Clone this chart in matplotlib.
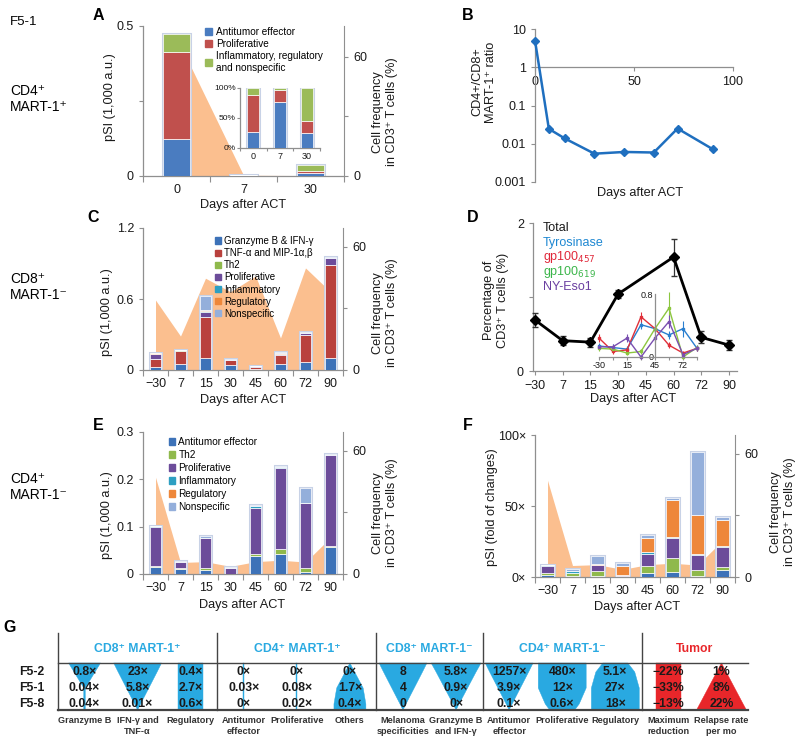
import numpy as np
import matplotlib
matplotlib.use('Agg')
import matplotlib.pyplot as plt
from matplotlib.patches import Patch, Polygon
from matplotlib.ticker import NullLocator

plt.rcParams['font.family'] = ['Liberation Sans', 'DejaVu Sans']
plt.rcParams['mathtext.fontset'] = 'dejavusans'

W, H = 800, 743
TICK = 9
LAB = 9.2

# ---- data ----
days = ['\u221230', '7', '15', '30', '45', '60', '72', '90']

# A: CD4+ MART-1+
a_days = ['0', '7', '30']
a_antitumor = [0.123, 0.003, 0.009]
a_prolif = [0.291, 0.0008, 0.008]
a_other = [0.059, 0.0002, 0.020]
a_freq = [70, 0.4, 0.2]
a_pct_antitumor = [26, 77, 25]
a_pct_prolif = [62, 20, 20]
a_pct_other = [12, 3, 55]

# B: CD4/CD8 ratio
b_day = [0, 7, 15, 30, 45, 60, 72, 90]
b_ratio = [5.0, 0.0245, 0.0138, 0.0055, 0.0061, 0.0059, 0.025, 0.0071]

# C: CD8+ MART-1-
c_gzb = [0.023, 0.050, 0.099, 0.040, 0.006, 0.050, 0.065, 0.104]
c_tnf = [0.067, 0.113, 0.346, 0.045, 0.022, 0.077, 0.231, 0.783]
c_th2 = [0.002, 0.002, 0.005, 0.0, 0.0, 0.002, 0.002, 0.002]
c_prolif = [0.043, 0.003, 0.038, 0.003, 0.002, 0.006, 0.012, 0.055]
c_inflam = [0.003, 0.001, 0.010, 0.0, 0.0, 0.003, 0.002, 0.004]
c_reg = [0.002, 0.001, 0.010, 0.0, 0.0, 0.002, 0.003, 0.002]
c_nonspec = [0.005, 0.002, 0.120, 0.005, 0.005, 0.015, 0.005, 0.005]
c_freq = [34, 16.5, 44.6, 38, 45.7, 15.6, 49.6, 38]

# D: CD8+ tetramer frequencies
d_total = [0.69, 0.41, 0.39, 1.04, np.nan, 1.54, 0.455, 0.35]
d_total_err = [0.10, 0.06, 0.06, 0.06, np.nan, 0.25, 0.08, 0.07]
d_tyr = [0.14, 0.12, 0.10, 0.41, 0.36, 0.28, 0.36, 0.11]
d_tyr_err = [0.04, 0.04, 0.04, 0.05, 0.04, 0.05, 0.10, 0.04]
d_gp457 = [0.24, 0.07, 0.09, 0.51, 0.36, 0.15, 0.05, 0.11]
d_gp457_err = [0.05, 0.03, 0.03, 0.06, 0.04, 0.04, 0.03, 0.03]
d_gp619 = [0.11, 0.10, 0.05, 0.07, 0.36, 0.62, 0.0, 0.12]
d_gp619_err = [0.03, 0.03, 0.03, 0.03, 0.05, 0.20, 0.03, 0.03]
d_eso = [0.13, 0.13, 0.24, 0.0, 0.24, 0.45, 0.03, 0.11]
d_eso_err = [0.03, 0.04, 0.05, 0.03, 0.05, 0.08, 0.03, 0.03]

# E: CD4+ MART-1- (pSI)
e_antitumor = [0.0155, 0.011, 0.0085, 0.001, 0.037, 0.042, 0.005, 0.058]
e_th2 = [0.002, 0.001, 0.0045, 0.0, 0.005, 0.011, 0.007, 0.002]
e_prolif = [0.0825, 0.014, 0.0625, 0.012, 0.097, 0.172, 0.138, 0.192]
e_inflam = [0.0005, 0.0, 0.001, 0.0, 0.004, 0.001, 0.001, 0.0]
e_reg = [0.0, 0.0, 0.0, 0.0, 0.0005, 0.0, 0.0, 0.0]
e_nonspec = [0.0005, 0.001, 0.003, 0.001, 0.0015, 0.002, 0.03, 0.001]
e_freq = [47, 5.6, 6.0, 3.7, 6.0, 6.7, 5.8, 17.7]

# F: CD4+ MART-1- (fold of changes)
f_antitumor = [1.3, 1.0, 0.8, 0.4, 3.1, 3.5, 0.5, 4.7]
f_th2 = [1.2, 1.5, 3.2, 0.3, 4.4, 9.9, 4.7, 2.3]
f_prolif = [5.5, 0.5, 4.2, 0.5, 8.5, 14.1, 10.1, 14.2]
f_inflam = [0.2, 1.2, 0.4, 0.2, 1.6, 0.7, 1.2, 0.3]
f_reg = [0.0, 0.3, 0.3, 6.6, 9.9, 25.9, 27.5, 18.5]
f_nonspec = [0.3, 1.4, 6.0, 2.0, 1.9, 1.4, 44.2, 2.3]

# G: summary table
g_groups = ['CD8\u207a MART-1\u207a', 'CD4\u207a MART-1\u207a', 'CD8\u207a MART-1\u207b',
            'CD4\u207a MART-1\u207b', 'Tumor']
g_group_size = [3, 3, 2, 3, 2]
g_patients = ['F5-2', 'F5-1', 'F5-8']
g_columns = ['Granzyme B', 'IFN-\u03b3 and\nTNF-\u03b1', 'Regulatory',
             'Antitumor\neffector', 'Proliferative', 'Others',
             'Melanoma\nspecificities', 'Granzyme B\nand IFN-\u03b3',
             'Antitumor\neffector', 'Proliferative', 'Regulatory',
             'Maximum\nreduction', 'Relapse rate\nper mo']
g_values = [['0.8\u00d7', '0.04\u00d7', '0.04\u00d7'],
            ['23\u00d7', '5.8\u00d7', '0.01\u00d7'],
            ['0.4\u00d7', '2.7\u00d7', '0.6\u00d7'],
            ['0\u00d7', '0.03\u00d7', '0\u00d7'],
            ['0\u00d7', '0.08\u00d7', '0.02\u00d7'],
            ['0\u00d7', '1.7\u00d7', '0.4\u00d7'],
            ['8', '4', '0'],
            ['5.8\u00d7', '0.9\u00d7', '0\u00d7'],
            ['1257\u00d7', '3.9\u00d7', '0.1\u00d7'],
            ['480\u00d7', '12\u00d7', '0.6\u00d7'],
            ['5.1\u00d7', '27\u00d7', '18\u00d7'],
            ['\u221222%', '\u221233%', '\u221213%'],
            ['1%', '8%', '22%']]
# glyph width profile (top edge, F5-2, F5-1, F5-8, bottom edge)
g_shape = [[0.64, 0.42, 0.03, 0.03, 0.03],
           [0.96, 0.78, 0.45, 0.12, 0.0],
           [0.5, 0.5, 0.5, 0.5, 0.5],
           [0.025, 0.025, 0.025, 0.025, 0.025],
           [0.025, 0.025, 0.025, 0.025, 0.025],
           [0.0, 0.19, 0.53, 0.64, 0.64],
           [0.96, 0.78, 0.45, 0.12, 0.0],
           [1.0, 0.8, 0.46, 0.12, 0.0],
           [0.96, 0.78, 0.45, 0.12, 0.0],
           [0.96, 0.96, 0.96, 0.68, 0.5],
           [0.5, 0.78, 0.96, 0.96, 0.96],
           [0.5, 0.5, 0.5, 0.5, 0.5],
           [0.0, 0.19, 0.53, 0.87, 1.0]]

# ---- colours ----
grey = '#8f8f8f'
peach = '#fbbf8f'
col_blue = '#3d72b8'
col_red = '#b9413d'
col_green = '#8fb94c'
col_purple = '#6c4c9a'
col_teal = '#2e9fc2'
col_orange = '#ee873a'
col_light = '#94afdb'
tab_blue = '#29a9e1'
tab_red = '#e8262a'

fig = plt.figure(figsize=(W / 100, H / 100), dpi=100)


def px_axes(x0, y0, x1, y1):
    # axes from pixel box (y measured from top)
    return fig.add_axes([x0 / W, 1 - y1 / H, (x1 - x0) / W, (y1 - y0) / H])


def style(ax, size=TICK):
    for s in ['top', 'right']:
        ax.spines[s].set_visible(False)
    for s in ['left', 'bottom']:
        ax.spines[s].set_color(grey)
        ax.spines[s].set_linewidth(0.9)
    ax.tick_params(colors=grey, labelcolor='#1a1a1a', labelsize=size, length=3, width=0.8)


def cat_axis(ax, labels):
    n = len(labels)
    ax.set_xlim(-0.5, n - 0.5)
    ax.set_xticks(range(n))
    ax.set_xticklabels(labels)
    ax.tick_params(axis='x', which='major', length=0, pad=6)
    ax.set_xticks(np.arange(n + 1) - 0.5, minor=True)
    ax.tick_params(axis='x', which='minor', length=4, color=grey, width=0.8)


def stacked(ax, layers, colors, width):
    x = np.arange(len(layers[0]))
    total = np.sum(np.array(layers), axis=0)
    ax.bar(x, total, width, color='none', edgecolor='#c8d2e6', linewidth=2.2, zorder=2)
    bottom = np.zeros(len(x))
    for vals, c in zip(layers, colors):
        ax.bar(x, vals, width, bottom=bottom, color=c, edgecolor='white', linewidth=0.5, zorder=3)
        bottom = bottom + np.array(vals)


def freq_twin(ax, freq, top=69):
    tw = ax.twinx()
    x = np.arange(len(freq))
    tw.fill_between(x, 0, freq, color=peach, lw=0)
    tw.set_ylim(0, top)
    tw.set_yticks([0, 30, 60])
    tw.set_yticklabels(['0', '', '60'])
    for s in ['top', 'left', 'bottom']:
        tw.spines[s].set_visible(False)
    tw.spines['right'].set_color(grey)
    tw.tick_params(colors=grey, labelcolor='#1a1a1a', labelsize=TICK, length=3, width=0.8)
    ax.set_zorder(tw.get_zorder() + 1)
    ax.patch.set_visible(False)
    return tw


def vlabel(x, y, s, size=LAB):
    fig.text(x / W, 1 - y / H, s, rotation=90, ha='center', va='center',
             fontsize=size, color='#1a1a1a', linespacing=1.15)


def hlabel(x, y, s, size=LAB, **kw):
    fig.text(x / W, 1 - y / H, s, ha='center', va='center', fontsize=size,
             color='#1a1a1a', **kw)


# ---- left side labels ----
fig.text(10 / W, 1 - 22 / H, 'F5-1', fontsize=9.5, va='center')
for yy, s in [(99, 'CD4\u207a\nMART-1\u207a'), (287, 'CD8\u207a\nMART-1\u207b'),
              (487, 'CD4\u207a\nMART-1\u207b')]:
    fig.text(10 / W, 1 - yy / H, s, fontsize=10, va='center', linespacing=1.25)
for xx, yy, s in [(98, 15, 'A'), (468, 16, 'B'), (93, 218, 'C'), (473, 217, 'D'),
                  (98, 425, 'E'), (468, 425, 'F'), (10, 628, 'G')]:
    fig.text(xx / W, 1 - yy / H, s, fontsize=11.5, fontweight='bold', ha='center', va='center')

# ---- A ----
axa = px_axes(143, 26, 344, 176)
style(axa)
stacked(axa, [a_antitumor, a_prolif, a_other], ['#4a7cc0', '#c0504d', '#9bbb59'], 0.4)
axa.set_ylim(0, 0.5)
axa.set_yticks([0, 0.25, 0.5])
axa.set_yticklabels(['0', '', '0.5'])
cat_axis(axa, a_days)
freq_twin(axa, a_freq, top=75.6)
vlabel(110, 97, 'pSI (1,000 a.u.)')
vlabel(385, 112, 'Cell frequency\nin CD3\u207a T cells (%)')
hlabel(243, 205, 'Days after ACT')
fig.legend([Patch(color='#4a7cc0'), Patch(color='#c0504d'), Patch(color='#9bbb59')],
           ['Antitumor effector', 'Proliferative', 'Inflammatory, regulatory\nand nonspecific'],
           loc='upper left', bbox_to_anchor=(205 / W, 1 - 27 / H), frameon=False, fontsize=7.2,
           handlelength=0.7, handleheight=0.7, handletextpad=0.4, labelspacing=0.22,
           borderpad=0, borderaxespad=0)

# A inset: percentages
axai = px_axes(240, 88, 320, 148)
style(axai, size=6)
axai.patch.set_visible(False)
stacked(axai, [a_pct_antitumor, a_pct_prolif, a_pct_other], ['#4a7cc0', '#c0504d', '#9bbb59'], 0.45)
axai.set_ylim(0, 100)
axai.set_yticks([0, 50, 100])
axai.set_yticklabels(['0%', '50%', '100%'])
axai.tick_params(axis='y', length=2, pad=1)
cat_axis(axai, a_days)
axai.tick_params(axis='x', which='major', pad=3, labelsize=6.5)
axai.tick_params(axis='x', which='minor', length=2)

# ---- B ----
axb = px_axes(535, 29, 733, 182)
style(axb)
axb.set_yscale('log')
axb.set_ylim(0.001, 10)
axb.set_xlim(0, 100)
axb.plot(b_day, b_ratio, color='#1f6fbf', marker='D', ms=4.5, lw=1.8, clip_on=False, zorder=3)
axb.spines['bottom'].set_position(('data', 1))
axb.set_xticks([0, 50, 100])
axb.set_yticks([0.001, 0.01, 0.1, 1, 10])
axb.set_yticklabels(['0.001', '0.01', '0.1', '1', '10'])
axb.yaxis.set_minor_locator(NullLocator())
vlabel(484, 82, 'CD4+/CD8+\nMART-1\u207a ratio')
hlabel(640, 193, 'Days after ACT')

# ---- C ----
axc = px_axes(143, 228, 343, 370)
style(axc)
c_cols = [col_blue, col_red, col_green, col_purple, col_teal, col_orange, col_light]
stacked(axc, [c_gzb, c_tnf, c_th2, c_prolif, c_inflam, c_reg, c_nonspec], c_cols, 0.45)
axc.set_ylim(0, 1.2)
axc.set_yticks([0, 0.6, 1.2])
axc.set_yticklabels(['0', '0.6', '1.2'])
cat_axis(axc, days)
freq_twin(axc, c_freq)
vlabel(107, 312, 'pSI (1,000 a.u.)')
vlabel(385, 313, 'Cell frequency\nin CD3\u207a T cells (%)')
hlabel(243, 400, 'Days after ACT')
fig.legend([Patch(color=c) for c in c_cols],
           ['Granzyme B & IFN-\u03b3', 'TNF-\u03b1 and MIP-1\u03b1,\u03b2', 'Th2', 'Proliferative',
            'Inflammatory', 'Regulatory', 'Nonspecific'],
           loc='upper left', bbox_to_anchor=(215 / W, 1 - 236 / H), frameon=False, fontsize=7.0,
           handlelength=0.6, handleheight=0.6, handletextpad=0.35, labelspacing=0.22,
           borderpad=0, borderaxespad=0)

# ---- D ----
axd = px_axes(533, 223, 737, 371)
style(axd)
xd = np.arange(len(days))
tot = np.array(d_total)
ok = ~np.isnan(tot)
axd.errorbar(xd[ok], tot[ok], yerr=np.array(d_total_err)[ok], color='black', ecolor='#333333',
             marker='D', ms=5, lw=2, elinewidth=0.9, capsize=2.5, clip_on=False, zorder=3)
axd.set_xlim(-0.07, 7.29)
axd.set_ylim(0, 2)
axd.set_xticks(xd)
axd.set_xticklabels(days)
axd.set_yticks([0, 1, 2])
axd.set_yticklabels(['0', '', '2'])
vlabel(496, 300, 'Percentage of\nCD3\u207a T cells (%)')
hlabel(633, 399, 'Days after ACT')
for i, (s, c) in enumerate([('Total', '#1a1a1a'), ('Tyrosinase', '#1f88d2'),
                            ('gp100$_{457}$', '#e0283a'), ('gp100$_{619}$', '#3bb54a'),
                            ('NY-Eso1', '#6a3fa0')]):
    fig.text(543 / W, 1 - (228 + 14.7 * i) / H, s, color=c, fontsize=9, va='center')

# D inset
axdi = px_axes(599, 294, 697, 357)
axdi.patch.set_visible(False)
style(axdi, size=6.5)
for vals, err, c in [(d_tyr, d_tyr_err, '#2a7fcf'), (d_gp457, d_gp457_err, '#e0303a'),
                     (d_gp619, d_gp619_err, '#8cc63f'), (d_eso, d_eso_err, '#7a4fb0')]:
    axdi.errorbar(xd, vals, yerr=err, color=c, lw=1, elinewidth=0.8, marker='s', ms=1.5,
                  capsize=0, clip_on=False)
axdi.set_xlim(0, 7)
axdi.set_ylim(0, 0.8)
axdi.spines['left'].set_position(('data', 4))
axdi.set_yticks([0, 0.8])
axdi.set_yticklabels(['0', '0.8'])
axdi.tick_params(axis='y', length=0, pad=1)
axdi.set_xticks(xd)
axdi.set_xticklabels([d if i % 2 == 0 else '' for i, d in enumerate(['-30', '7', '15', '30', '45', '60', '72', '90'])])
axdi.tick_params(axis='x', length=2, pad=1)

# ---- E ----
axe = px_axes(143, 432, 343, 574)
style(axe)
e_cols = [col_blue, col_green, col_purple, col_teal, col_orange, col_light]
stacked(axe, [e_antitumor, e_th2, e_prolif, e_inflam, e_reg, e_nonspec], e_cols, 0.45)
axe.set_ylim(0, 0.3)
axe.set_yticks([0, 0.1, 0.2, 0.3])
axe.set_yticklabels(['0', '0.1', '0.2', '0.3'])
cat_axis(axe, days)
freq_twin(axe, e_freq)
vlabel(107, 515, 'pSI (1,000 a.u.)')
vlabel(385, 513, 'Cell frequency\nin CD3\u207a T cells (%)')
hlabel(242, 605, 'Days after ACT')
fig.legend([Patch(color=c) for c in e_cols],
           ['Antitumor effector', 'Th2', 'Proliferative', 'Inflammatory', 'Regulatory', 'Nonspecific'],
           loc='upper left', bbox_to_anchor=(169 / W, 1 - 437 / H), frameon=False, fontsize=7.2,
           handlelength=0.6, handleheight=0.6, handletextpad=0.35, labelspacing=0.3,
           borderpad=0, borderaxespad=0)

# ---- F ----
axf = px_axes(535, 435, 735, 577)
style(axf)
stacked(axf, [f_antitumor, f_th2, f_prolif, f_inflam, f_reg, f_nonspec], e_cols, 0.5)
axf.set_ylim(0, 100)
axf.set_yticks([0, 50, 100])
axf.set_yticklabels(['0\u00d7', '50\u00d7', '100\u00d7'])
cat_axis(axf, days)
freq_twin(axf, e_freq)
vlabel(492, 507, 'pSI (fold of changes)')
vlabel(783, 512, 'Cell frequency\nin CD3\u207a T cells (%)')
hlabel(637, 607, 'Days after ACT')

# ---- G: table ----
gax = fig.add_axes([0, 0, 1, 1])
gax.set_xlim(0, W)
gax.set_ylim(H, 0)
gax.axis('off')
tx0, tx1 = 58, 748
cw = (tx1 - tx0) / len(g_columns)
y_head, y_top, y_bot = 633, 663, 710
row_y = [672, 688, 704]
prof_y = [y_top, row_y[0], row_y[1], row_y[2], y_bot]

edges = np.concatenate([[0], np.cumsum(g_group_size)])
for k in edges[:-1]:
    gax.plot([tx0 + cw * k] * 2, [y_head, y_bot], color='#444444', lw=1)
gax.plot([tx0, tx1], [y_top, y_top], color='#444444', lw=1)
gax.plot([tx0, tx1], [y_bot, y_bot], color='#444444', lw=1.6)
for gi, name in enumerate(g_groups):
    mid = tx0 + cw * (edges[gi] + edges[gi + 1]) / 2
    gax.text(mid, 649, name, ha='center', va='center', fontsize=8.8, fontweight='bold',
             color=tab_red if name == 'Tumor' else tab_blue)

for i, (prof, vals, lab) in enumerate(zip(g_shape, g_values, g_columns)):
    cx = tx0 + cw * (i + 0.5)
    half = np.array(prof) * cw * 0.47
    pts = [(cx - h, y) for h, y in zip(half, prof_y)] + \
          [(cx + h, y) for h, y in zip(half[::-1], prof_y[::-1])]
    c = tab_red if i >= edges[-2] else tab_blue
    gax.add_patch(Polygon(pts, closed=True, facecolor=c, edgecolor=c, lw=0.3))
    for v, yy in zip(vals, row_y):
        gax.text(cx, yy, v, ha='center', va='center', fontsize=8.8, fontweight='bold', color='#1a1a1a')
    gax.text(cx, 716, lab, ha='center', va='top', fontsize=6.6, fontweight='bold',
             color='#333333', linespacing=1.25)

for p, yy in zip(g_patients, row_y):
    gax.text(32, yy, p, ha='center', va='center', fontsize=8.8, fontweight='bold', color='#1a1a1a')

fig.savefig('out.png', dpi=100)
